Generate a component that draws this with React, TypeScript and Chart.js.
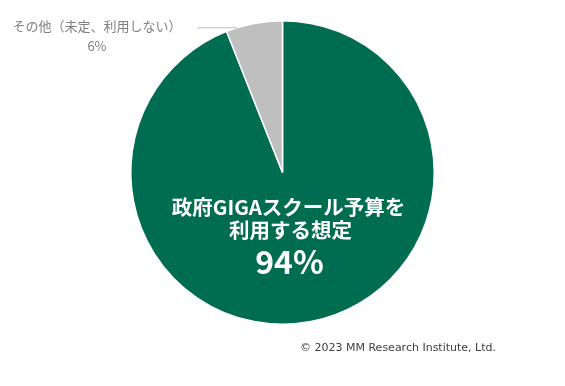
import React, { useEffect, useRef } from "react";
import { Chart, registerables } from "chart.js";

Chart.register(...registerables);

const categories = ["政府GIGAスクール予算を利用する想定", "その他（未定、利用しない）"];
const values = [94, 6];
const colors = ["#006C50", "#BFBFBF"];
const insideLines = ["政府GIGAスクール予算を", "利用する想定"];
const insidePct = "94%";
const otherLabel = "その他（未定、利用しない）";
const otherPct = "6%";
const copyright = "© 2023 MM Research Institute, Ltd.";

const JP = '"Noto Sans CJK JP", "Noto Sans", sans-serif';

const labelPlugin = {
  id: "labels",
  afterDraw(chart: any) {
    const ctx = chart.ctx;
    const meta = chart.getDatasetMeta(0);
    const arc = meta.data[0];
    const cx = arc.x;
    const cy = arc.y;
    const r = arc.outerRadius;
    ctx.save();
    // inside label
    ctx.fillStyle = "#FFFFFF";
    ctx.textAlign = "center";
    ctx.textBaseline = "middle";
    ctx.font = `bold 20.5px ${JP}`;
    ctx.fillText(insideLines[0], cx + 6, cy + 35);
    ctx.fillText(insideLines[1], cx + 8, cy + 58);
    ctx.font = `bold 32px ${JP}`;
    ctx.fillText(insidePct, cx + 7, cy + 89);

    // outside label for small slice
    const ey = cy - r + 7;
    const ex = cx - r * 0.3;
    ctx.strokeStyle = "#BFBFBF";
    ctx.lineWidth = 1;
    ctx.beginPath();
    ctx.moveTo(197, ey);
    ctx.lineTo(ex, ey);
    ctx.stroke();
    ctx.fillStyle = "#7F7F7F";
    ctx.font = `13px ${JP}`;
    ctx.fillText(otherLabel, 97, 26);
    ctx.fillText(otherPct, 97, 46);

    // copyright
    ctx.fillStyle = "#404040";
    ctx.font = `11px "DejaVu Sans", sans-serif`;
    ctx.textAlign = "left";
    ctx.fillText(copyright, 300, 348);
    ctx.restore();
  },
};

export default function App() {
  const ref = useRef<HTMLCanvasElement>(null);
  useEffect(() => {
    document.body.style.margin = "0";
    const chart = new Chart(ref.current!, {
      type: "pie",
      data: {
        labels: categories,
        datasets: [
          {
            data: values,
            backgroundColor: colors,
            borderColor: "#FFFFFF",
            borderWidth: 1.5,
          },
        ],
      },
      options: {
        responsive: false,
        animation: false,
        layout: { padding: { top: 20, bottom: 61, left: 130, right: 130 } },
        plugins: { legend: { display: false }, tooltip: { enabled: false } },
      },
      plugins: [labelPlugin],
    });
    return () => chart.destroy();
  }, []);
  return (
    <div style={{ position: "absolute", left: 0, top: 0, width: 565, height: 386, background: "#fff" }}>
      <canvas ref={ref} width={565} height={386} />
    </div>
  );
}
